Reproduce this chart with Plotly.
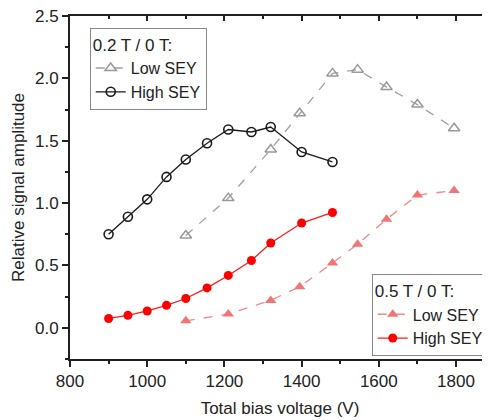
import plotly.graph_objects as go

# Data
low_02_x = [1100, 1210, 1320, 1395, 1480, 1545, 1620, 1700, 1795]
low_02_y = [0.74, 1.04, 1.43, 1.72, 2.04, 2.07, 1.93, 1.79, 1.60]

high_02_x = [900, 950, 1000, 1050, 1100, 1155, 1210, 1270, 1320, 1400, 1480]
high_02_y = [0.75, 0.89, 1.03, 1.21, 1.35, 1.48, 1.59, 1.57, 1.61, 1.41, 1.33]

low_05_x = [1100, 1210, 1320, 1395, 1480, 1545, 1620, 1700, 1795]
low_05_y = [0.056, 0.11, 0.22, 0.33, 0.52, 0.67, 0.87, 1.065, 1.10]

high_05_x = [900, 950, 1000, 1050, 1100, 1155, 1210, 1270, 1320, 1400, 1480]
high_05_y = [0.075, 0.10, 0.135, 0.18, 0.235, 0.32, 0.42, 0.54, 0.68, 0.84, 0.925]

x_ticks = [800, 1000, 1200, 1400, 1600, 1800]
y_ticks = [0.0, 0.5, 1.0, 1.5, 2.0, 2.5]

FONT = "Liberation Sans, Arial, sans-serif"
FS = 17
LFS = 16
AX = "#202020"

fig = go.Figure()

fig.add_trace(go.Scatter(
    x=low_02_x, y=low_02_y, name="Low SEY", mode="lines+markers",
    line=dict(color="#a0a0a0", width=1.3, dash="dash"),
    marker=dict(symbol="triangle-up-open", size=10, color="#999999", line=dict(width=1.5)),
    legend="legend"))
fig.add_trace(go.Scatter(
    x=high_02_x, y=high_02_y, name="High SEY", mode="lines+markers",
    line=dict(color="#1a1a1a", width=1.3),
    marker=dict(symbol="circle-open", size=9, color="#1a1a1a", line=dict(width=1.6)),
    legend="legend"))
fig.add_trace(go.Scatter(
    x=low_05_x, y=low_05_y, name="Low SEY", mode="lines+markers",
    line=dict(color="#f08a8a", width=1.3, dash="dash"),
    marker=dict(symbol="triangle-up", size=10, color="#f07575"),
    legend="legend2"))
# drawn on the mirrored (top/right) axes, which share the same ranges
fig.add_trace(go.Scatter(
    x=high_05_x, y=high_05_y, name="High SEY", mode="lines+markers",
    line=dict(color="#ff1a1a", width=1.3),
    marker=dict(symbol="circle", size=9, color="#ff0000"),
    xaxis="x2", yaxis="y2",
    legend="legend2"))

xr = [800, 1888]
yr = [-0.25, 2.5001]

main = dict(ticks="outside", ticklen=6, tickwidth=1.5, tickcolor=AX,
            showline=True, linecolor=AX, linewidth=2,
            showgrid=False, zeroline=False, automargin=False,
            ticklabeloverflow="allow", tickfont=dict(size=FS, color="#222"))
mirror = dict(ticks="inside", ticklen=5, tickwidth=1.5, tickcolor=AX,
              showline=True, linecolor=AX, linewidth=2, showticklabels=False,
              showgrid=False, zeroline=False, automargin=False)

fig.update_layout(
    width=482, height=412,
    margin=dict(l=62, r=0, t=8, b=61),
    paper_bgcolor="white", plot_bgcolor="white",
    font=dict(family=FONT, size=FS, color="#222"),
    showlegend=True,
    xaxis=dict(range=xr, tickvals=x_ticks,
               minor=dict(dtick=100, tick0=800, ticks="outside", ticklen=3, tickwidth=1.5,
                          tickcolor=AX, showgrid=False),
               title=dict(text="Total bias voltage (V)", font=dict(size=FS), standoff=12),
               **main),
    yaxis=dict(range=yr, tickvals=y_ticks, tickformat=".1f",
               minor=dict(dtick=0.25, tick0=0, ticks="outside", ticklen=3, tickwidth=1.5,
                          tickcolor=AX, showgrid=False),
               title=dict(text="Relative signal amplitude", font=dict(size=FS), standoff=6),
               **main),
    xaxis2=dict(range=xr, overlaying="x", side="top", anchor="y2", tickvals=x_ticks,
                minor=dict(dtick=100, tick0=800, ticks="inside", ticklen=3, tickwidth=1.5,
                           tickcolor=AX, showgrid=False),
                **mirror),
    yaxis2=dict(range=yr, overlaying="y", side="right", anchor="x2", tickvals=y_ticks,
                minor=dict(dtick=0.25, tick0=0, ticks="inside", ticklen=3, tickwidth=1.5,
                           tickcolor=AX, showgrid=False),
                **mirror),
    legend=dict(x=0.047, y=0.965, xanchor="left", yanchor="top",
                title=dict(text="0.2 T / 0 T:", font=dict(size=LFS + 1)),
                bordercolor="#888", borderwidth=1, bgcolor="white",
                font=dict(size=LFS), itemwidth=30, tracegroupgap=0),
    legend2=dict(x=0.997, y=0.008, xanchor="right", yanchor="bottom",
                 title=dict(text="0.5 T / 0 T:", font=dict(size=LFS + 1)),
                 bordercolor="#888", borderwidth=1, bgcolor="white",
                 font=dict(size=LFS), itemwidth=30, tracegroupgap=0),
)

fig.write_html("out.html")
